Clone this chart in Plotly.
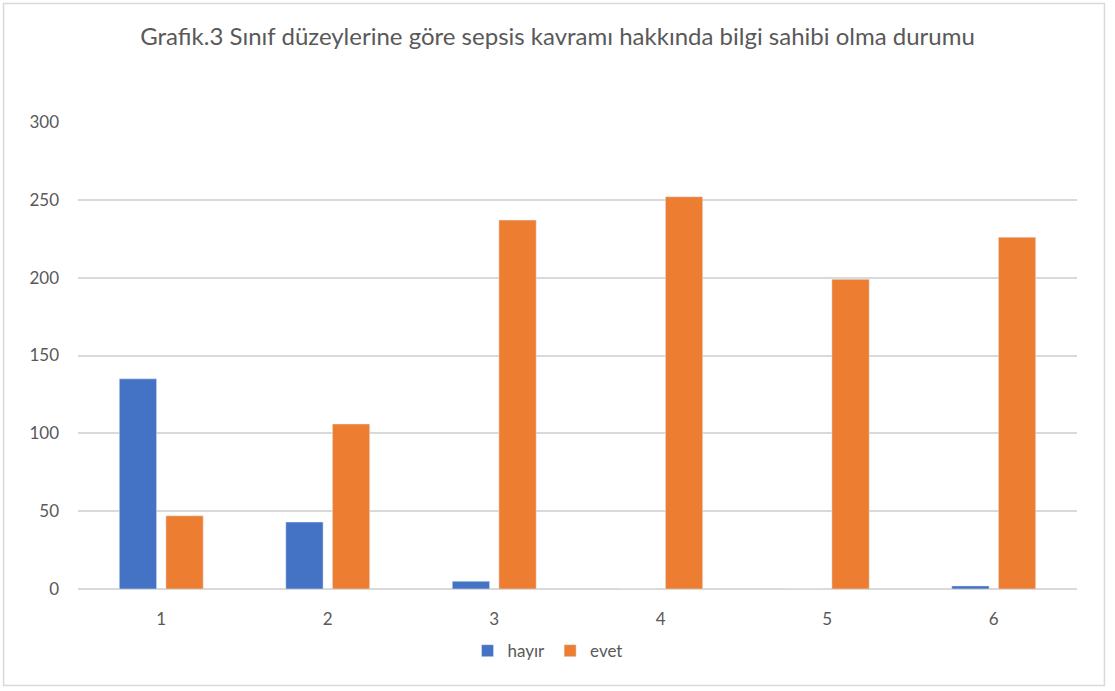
"""Grafik.3: sınıf düzeylerine göre sepsis bilgisi (hayır / evet)."""

import plotly.graph_objects as go

siniflar = ["1", "2", "3", "4", "5", "6"]
hayir = [135, 43, 5, 0, 0, 2]
evet = [47, 106, 237, 252, 199, 226]

TEXT = "#595959"
GRID = "#d9d9d9"
FONT = "Lato"

fig = go.Figure()
fig.add_trace(go.Bar(name="hayır", x=siniflar, y=hayir, marker_color="#4472C4"))
fig.add_trace(go.Bar(name="evet", x=siniflar, y=evet, marker_color="#ED7D31"))

fig.update_layout(
    width=1115,
    height=691,
    barmode="group",
    bargap=0.44,
    bargroupgap=0.2,
    paper_bgcolor="white",
    plot_bgcolor="white",
    margin=dict(l=78, r=38, t=122, b=102),
    font=dict(family=FONT, color=TEXT, size=17),
    title=dict(
        text="Grafik.3 Sınıf düzeylerine göre sepsis kavramı hakkında bilgi sahibi olma durumu",
        x=0.5, xanchor="center", y=0.947, yanchor="middle",
        font=dict(family=FONT, size=24, color=TEXT),
    ),
    legend=dict(
        orientation="h", x=0.47, xanchor="center", y=-0.133, yanchor="middle",
        font=dict(size=17, color=TEXT), itemwidth=30, traceorder="normal",
    ),
    shapes=[dict(
        type="rect", xref="paper", yref="paper",
        x0=-0.0745, x1=1.0275, y0=-0.2065, y1=1.254,
        line=dict(color="#d9d9d9", width=1.5),
    )],
)
fig.update_xaxes(showgrid=False, showline=False, ticks="", ticklabelstandoff=18)
fig.update_yaxes(
    range=[0, 300], dtick=50, showgrid=True, gridcolor=GRID, gridwidth=1.5,
    zeroline=True, zerolinecolor=GRID, zerolinewidth=1.5, ticks="",
    ticklabelstandoff=18,
)

# the browser's default 8px body margin would shift the whole figure
fig.write_html(
    "out.html",
    config={"displayModeBar": False},
    post_script="document.body.style.margin = '0';",
)
